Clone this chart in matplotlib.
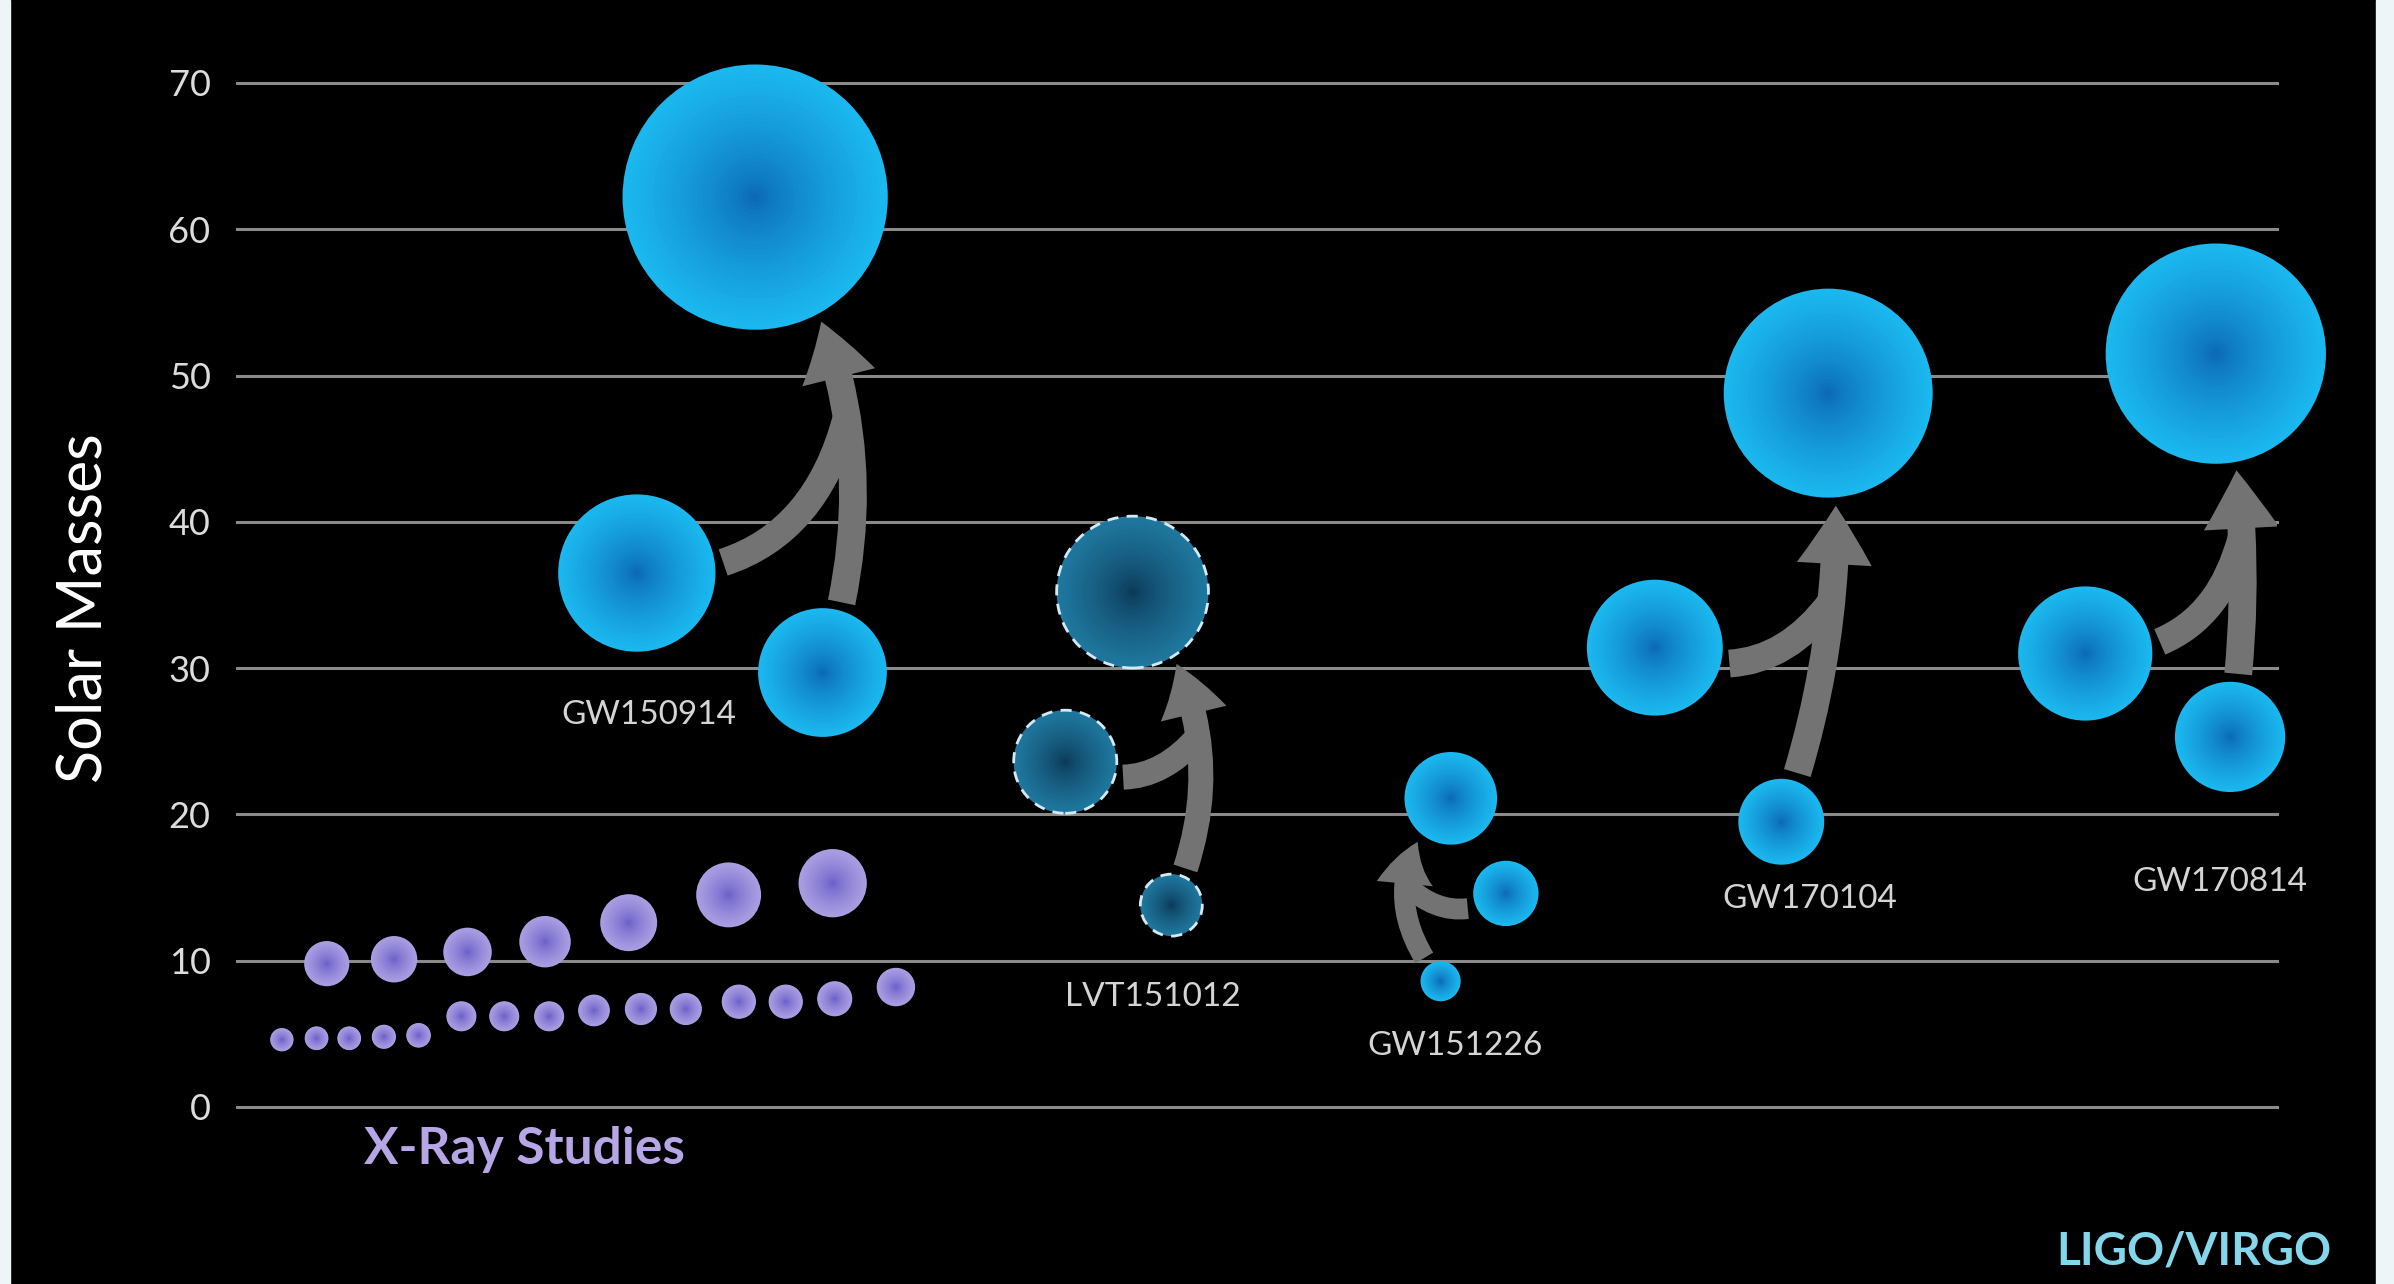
import numpy as np
import matplotlib
matplotlib.use("Agg")
import matplotlib.pyplot as plt
from matplotlib.patches import FancyArrowPatch, Rectangle
from matplotlib.colors import to_rgb

# X-ray studies: position along the chart and mass (solar masses)
xray_top_x = [4.4, 7.7, 11.3, 15.1, 19.2, 24.1, 29.2]
xray_top_m = [9.8, 10.1, 10.6, 11.3, 12.6, 14.5, 15.3]
xray_low_x = [2.2, 3.9, 5.5, 7.2, 8.9, 11.0, 13.1, 15.3, 17.5, 19.8, 22.0, 24.6, 26.9, 29.3, 32.3]
xray_low_m = [4.6, 4.7, 4.7, 4.8, 4.9, 6.2, 6.2, 6.2, 6.6, 6.7, 6.7, 7.2, 7.2, 7.4, 8.2]

# gravitational wave events: two progenitors and the final black hole
events = ["GW150914", "LVT151012", "GW151226", "GW170104", "GW170814"]
m1 = [36.5, 23.6, 14.6, 31.4, 31.0]
m1_x = [19.6, 40.6, 62.2, 69.5, 90.6]
m2 = [29.7, 13.8, 8.6, 19.5, 25.3]
m2_x = [28.7, 45.8, 59.0, 75.7, 97.7]
mf = [62.2, 35.2, 21.1, 48.8, 51.5]
mf_x = [25.4, 43.9, 59.5, 78.0, 97.0]
label_x = [20.2, 44.9, 59.7, 77.1, 97.2]
label_y = [26.8, 7.5, 4.2, 14.2, 15.4]
candidate = [False, True, False, False, False]

yticks = [0, 10, 20, 30, 40, 50, 60, 70]

# styles
arrow_rad = [0.25, 0.3, -0.45, 0.12, 0.1]
arrow_w = [1.0, 0.9, 0.75, 1.0, 1.0]
DPI = 100
W, H = 2394, 1284

plt.rcParams['font.family'] = ['Lato', 'DejaVu Sans']

fig = plt.figure(figsize=(W / DPI, H / DPI), dpi=DPI, facecolor='black')
fig.patches.append(Rectangle((0, 0), 10 / W, 1, transform=fig.transFigure,
                             color='#eef5f8', zorder=0))
fig.patches.append(Rectangle((2376 / W, 0), 1 - 2376 / W, 1, transform=fig.transFigure,
                             color='#eef5f8', zorder=0))

ax = fig.add_axes([237 / W, 177 / H, 2040 / W, 1024 / H])
ax.set_facecolor('none')
ax.set_xlim(0, 100)
ax.set_ylim(0, 70)
for s in ax.spines.values():
    s.set_visible(False)
ax.set_xticks([])
ax.set_yticks(yticks)
ax.tick_params(axis='y', length=0, pad=19, labelsize=26, labelcolor='#dcdcdc')
ax.grid(axis='y', color='#8a8a8a', lw=2.2)
for gl in ax.get_ygridlines():
    gl.set_clip_on(False)
ax.set_axisbelow(True)


def diam_px(m):
    return 4.2 * np.asarray(m, dtype=float) + 4


def bubble(x, y, m, edge, center, n=30, dashed=False):
    d = diam_px(m) * 72 / DPI
    e = np.array(to_rgb(edge))
    c = np.array(to_rgb(center))
    for i in range(n):
        f = 1 - i / n
        col = c + (e - c) * f ** 0.7
        ax.scatter(x, y, s=(d * f) ** 2, color=col, edgecolors='none',
                   zorder=3 + i * 0.001, clip_on=False)
    if dashed:
        ax.scatter(x, y, s=d ** 2, facecolors='none', edgecolors='#d2eaf4',
                   linewidths=2, linestyle=(0, (4, 3)), zorder=4, clip_on=False)


# X-ray bubbles
bubble(xray_top_x, xray_top_m, xray_top_m, '#ab9fe2', '#6659c8')
bubble(xray_low_x, xray_low_m, xray_low_m, '#ab9fe2', '#6659c8')

# GW bubbles
for i in range(len(events)):
    if candidate[i]:
        edge, center = '#1f789f', '#0a3452'
    else:
        edge, center = '#1bb8ef', '#0a62b0'
    bubble([m1_x[i], m2_x[i], mf_x[i]], [m1[i], m2[i], mf[i]],
           np.array([m1[i], m2[i], mf[i]]), edge, center, dashed=candidate[i])

# merger arrows
gray = '#737373'
gap = 6
for i in range(len(events)):
    k = arrow_w[i]
    r1, r2, rf = [diam_px(v) / 2 * 72 / DPI for v in (m1[i], m2[i], mf[i])]
    main = FancyArrowPatch((m2_x[i], m2[i]), (mf_x[i], mf[i]),
                           arrowstyle='simple,head_length=%g,head_width=%g,tail_width=%g'
                           % (42 * k, 54 * k, 20 * k),
                           connectionstyle='arc3,rad=%g' % arrow_rad[i],
                           shrinkA=r2 + gap, shrinkB=rf + gap, mutation_scale=1,
                           fc=gray, ec='none', lw=0, zorder=2)
    ax.add_patch(main)
    # point where the second branch joins the main arrow
    A = ax.transData.transform((m2_x[i], m2[i]))
    B = ax.transData.transform((mf_x[i], mf[i]))
    dx, dy = B - A
    C = (A + B) / 2 + arrow_rad[i] * np.array([dy, -dx])
    t = 0.52
    J = (1 - t) ** 2 * A + 2 * t * (1 - t) * C + t ** 2 * B
    jx, jy = ax.transData.inverted().transform(J)
    P = ax.transData.transform((m1_x[i], m1[i]))
    side = np.sign(J[0] - P[0])
    branch = FancyArrowPatch((m1_x[i], m1[i]), (jx, jy), arrowstyle='-',
                             connectionstyle='arc3,rad=%g' % (0.4 * side),
                             shrinkA=r1 + gap, shrinkB=0, mutation_scale=1,
                             color=gray, lw=20 * k, capstyle='butt', zorder=2)
    ax.add_patch(branch)

# event labels
for i in range(len(events)):
    ax.text(label_x[i], label_y[i], events[i], ha='center', va='center',
            fontsize=24, color='#d4d4d4', zorder=5)

ax.text(14.1, -2.9, 'X-Ray Studies', ha='center', va='center', fontsize=37,
        fontweight='bold', color='#b7a6e6')
ax.text(95.9, -9.9, 'LIGO/VIRGO', ha='center', va='center', fontsize=33,
        fontweight='bold', color='#84d6ea')
fig.text(84 / W, 1 - 608 / H, 'Solar Masses', rotation=90, ha='center', va='center',
         fontsize=44, color='white')

fig.savefig('out.png', dpi=DPI, facecolor=fig.get_facecolor())
